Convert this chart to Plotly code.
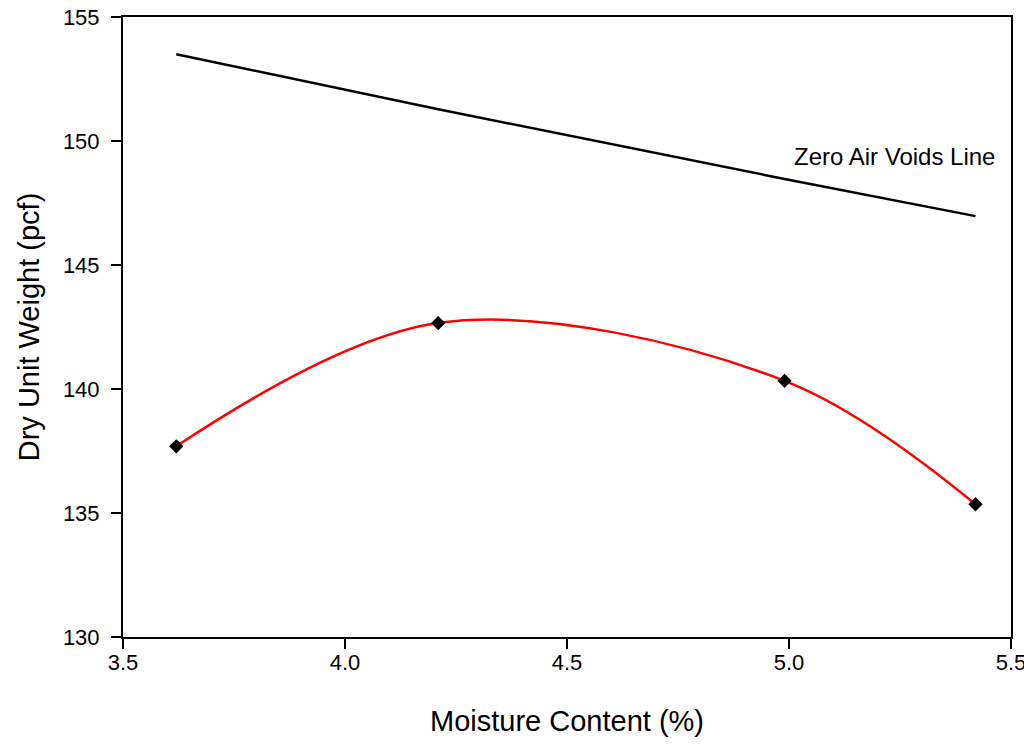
import plotly.graph_objects as go

# Data
moisture = [3.62, 4.21, 4.99, 5.42]
dry_unit_weight = [137.69, 142.66, 140.33, 135.35]
zav_moisture = [3.62, 4.21, 4.99, 5.42]
zav_weight = [153.5, 151.28, 148.47, 146.97]

x_ticks = [3.5, 4.0, 4.5, 5.0, 5.5]
x_tick_labels = ["3.5", "4.0", "4.5", "5.0", "5.5"]
y_ticks = [130, 135, 140, 145, 150, 155]
y_tick_labels = ["130", "135", "140", "145", "150", "155"]

FONT = "Arial, Liberation Sans, sans-serif"

fig = go.Figure()

fig.add_trace(go.Scatter(
    x=zav_moisture, y=zav_weight, mode="lines",
    line=dict(color="black", width=2.5),
    showlegend=False, hoverinfo="skip",
))

fig.add_trace(go.Scatter(
    x=moisture, y=dry_unit_weight, mode="lines+markers",
    line=dict(color="#ff0000", width=2.5, shape="spline", smoothing=1.0),
    marker=dict(symbol="diamond", size=11, color="black"),
    showlegend=False,
))

fig.add_annotation(
    x=5.468, y=149.36, xref="x", yref="y",
    text="Zero Air Voids Line", showarrow=False,
    xanchor="right", yanchor="middle",
    font=dict(family=FONT, size=24, color="black"),
)

axis_common = dict(
    showgrid=False, zeroline=False,
    showline=True, linecolor="black", linewidth=2,
    mirror=True,
    ticks="outside", ticklen=10, tickwidth=2, tickcolor="black",
    tickfont=dict(family=FONT, size=22, color="black"),
    ticklabeloverflow="allow",
)

fig.update_xaxes(
    range=[3.5, 5.5], tickvals=x_ticks, ticktext=x_tick_labels,
    ticklabelstandoff=-5,
    title=dict(text="Moisture Content (%)", font=dict(family=FONT, size=29, color="black"), standoff=36),
    **axis_common,
)
fig.update_yaxes(
    range=[130, 155], tickvals=y_ticks, ticktext=y_tick_labels,
    ticklabelstandoff=7,
    title=dict(text="Dry Unit Weight (pcf)", font=dict(family=FONT, size=29, color="black"), standoff=15),
    **axis_common,
)

fig.update_layout(
    width=1032, height=746,
    margin=dict(l=115, r=29, t=9, b=117, autoexpand=False),
    paper_bgcolor="white", plot_bgcolor="white",
    font=dict(family=FONT, color="black"),
)

fig.write_html("out.html")
